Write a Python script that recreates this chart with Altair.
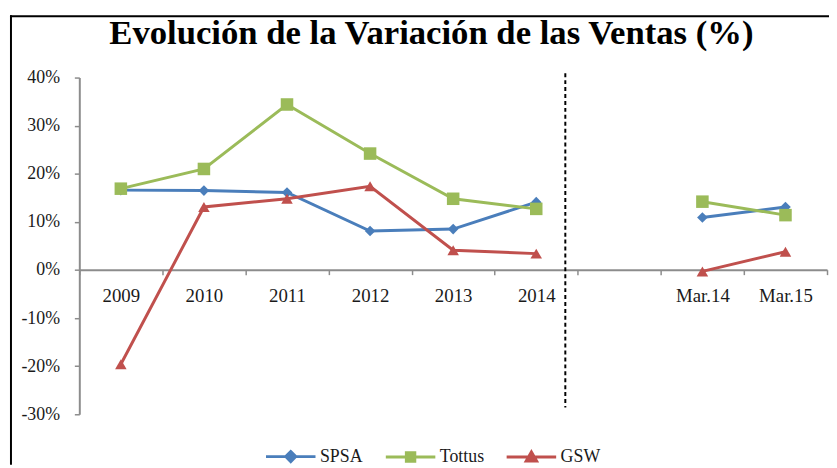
import altair as alt
import pandas as pd

categories = ["2009", "2010", "2011", "2012", "2013", "2014", " ", "Mar.14", "Mar.15"]
periods = ["Anual"] * 6 + ["Vacío"] + ["Marzo"] * 2
spsa = [16.6, 16.5, 16.1, 8.1, 8.5, 14.1, None, 10.9, 13.1]
tottus = [16.9, 21.0, 34.4, 24.2, 14.8, 12.7, None, 14.2, 11.4]
gsw = [-19.6, 13.1, 14.8, 17.4, 4.1, 3.4, None, -0.3, 3.8]
series_names = ["SPSA", "Tottus", "GSW"]
colors = ["#4A7EBB", "#9BBB59", "#C0504D"]
y_ticks = [-30, -20, -10, 0, 10, 20, 30, 40]
sep_span = [40.9, -28.6]

rows = []
for name, vals in zip(series_names, [spsa, tottus, gsw]):
    for c, p, v in zip(categories, periods, vals):
        if v is not None:
            rows.append({"cat": c, "periodo": p, "serie": name, "valor": v})
df = pd.DataFrame(rows)

W, H = 827, 454
SERIF = "Liberation Serif"

x_scale = alt.Scale(domain=categories, range=[70, 825], paddingInner=0, paddingOuter=0)
y_scale = alt.Scale(domain=[-30, 40], range=[403, 63], nice=False, zero=False)

def cscale():
    return alt.Scale(domain=series_names, range=colors)

x_axis = alt.Axis(title=None, offset=-197, tickBand="extent", domainColor="#8c8c8c",
                  domainWidth=2, tickColor="#8c8c8c", tickWidth=1.5, tickSize=5,
                  labelFont=SERIF, labelFontSize=19, labelColor="#1a1a1a",
                  labelPadding=12, labelAngle=0, grid=False)
y_axis = alt.Axis(title=None, values=y_ticks, offset=-70, labelExpr="datum.value + '%'",
                  domainColor="#8c8c8c", domainWidth=2, tickColor="#8c8c8c",
                  tickWidth=1.5, tickSize=5, labelFont=SERIF, labelFontSize=18,
                  labelColor="#1a1a1a", labelPadding=15, grid=False)

X = alt.X("cat:N", scale=x_scale, axis=x_axis, sort=categories)
Y = alt.Y("valor:Q", scale=y_scale, axis=y_axis)

base = alt.Chart(df)

lines = base.mark_line(strokeWidth=3).encode(
    x=X, y=Y,
    color=alt.Color("serie:N", scale=cscale(), legend=None),
    detail="periodo:N",
)

shapes = {"SPSA": ("diamond", 115), "Tottus": ("square", 160), "GSW": ("triangle-up", 135)}
point_layers = []
for name in series_names:
    shp, sz = shapes[name]
    point_layers.append(
        base.transform_filter(alt.datum.serie == name)
        .mark_point(filled=True, shape=shp, size=sz, opacity=1)
        .encode(x=X, y=Y, color=alt.Color("serie:N", scale=cscale(), legend=None))
    )

legend_paths = [
    "M-1,0H1M0,-0.2L0.2,0L0,0.2L-0.2,0Z",
    "M-1,0H1M-0.17,-0.17H0.17V0.17H-0.17Z",
    "M-1,0H1M0,-0.21L0.21,0.16H-0.21Z",
]
leg = alt.Legend(title=None, orient="none", legendX=257, legendY=419, direction="horizontal",
                 symbolSize=2500, symbolStrokeWidth=3, symbolOpacity=1,
                 labelFont=SERIF, labelFontSize=18, labelColor="#1a1a1a",
                 labelOffset=3, columnPadding=16)
legend_layer = base.mark_point(filled=False, opacity=0, strokeWidth=3).encode(
    x=X, y=Y,
    color=alt.Color("serie:N", scale=cscale(), legend=leg),
    fill=alt.Fill("serie:N", scale=cscale(), legend=leg),
    shape=alt.Shape("serie:N", scale=alt.Scale(domain=series_names, range=legend_paths), legend=leg),
)

sep = alt.Chart(pd.DataFrame({"cat": ["2014"], "top": [sep_span[0]], "bot": [sep_span[1]]})).mark_rule(
    color="black", strokeWidth=2, strokeDash=[4, 3]
).encode(
    x=alt.X("cat:N", scale=x_scale, axis=x_axis, sort=categories, bandPosition=0.85),
    y=alt.Y("top:Q", scale=y_scale, axis=y_axis),
    y2="bot:Q",
)

frame_left = alt.Chart(pd.DataFrame({"k": [0]})).mark_rule(color="black", strokeWidth=2).encode(
    x=alt.value(1)
)
frame_top = alt.Chart(pd.DataFrame({"k": [0]})).mark_rule(color="black", strokeWidth=2).encode(
    y=alt.value(1)
)

chart = alt.layer(
    frame_left, frame_top, sep, lines, *point_layers, legend_layer
).resolve_scale(
    color="independent", fill="independent", shape="independent"
).resolve_legend(
    color="independent", fill="independent", shape="independent"
).properties(
    width=W, height=H,
    title=alt.Title("Evolución de la Variación de las Ventas (%)", font=SERIF, fontSize=35,
                    fontWeight="bold", color="black", anchor="middle", offset=-65,
                    baseline="alphabetic", dx=12),
    padding={"left": 2, "top": 5, "right": 0, "bottom": 0},
    autosize=alt.AutoSizeParams(type="none"),
    background="white",
).configure_view(stroke=None)

chart.save("out.html", embed_options={"renderer": "svg", "actions": False})
